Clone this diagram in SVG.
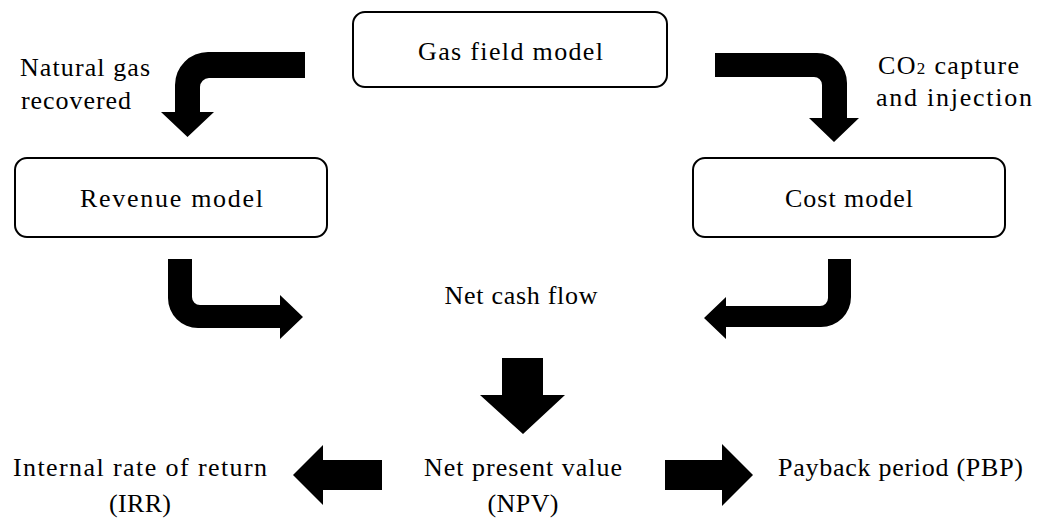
<svg xmlns="http://www.w3.org/2000/svg" width="1039" height="521" viewBox="0 0 1039 521">
<style>
.box{fill:#fff;stroke:#000;stroke-width:2}
.t{font-family:"Liberation Serif",serif;font-size:26px;fill:#000}
.c{text-anchor:middle}
.arr{fill:#000;stroke:none}
</style>
<rect width="1039" height="521" fill="#fff"/>
<g id="connectors">
<path class="arr" d="M305,52 H208 A33,33 0 0 0 175,85 V112 H161 L187.5,137 L214,112 H200 V87 A9,9 0 0 1 209,78 H305 Z"/>
<path class="arr" d="M715,53 H817 A30,30 0 0 1 847,83 V118 H859 L834,142 L809,118 H822 V85 A8,8 0 0 0 814,77 H715 Z"/>
<path class="arr" d="M168,259 V298 A30,30 0 0 0 198,328 H280 V339 L303,317 L280,295 V305 H200 A8,8 0 0 1 192,297 V259 Z"/>
<path class="arr" d="M851,259 V297 A30,30 0 0 1 821,327 H726 V339 L704,318 L726,297 V306 H820 A8,8 0 0 0 828,298 V259 Z"/>
<path class="arr" d="M502,358 H543 V395 H565 L523,434 L480,395 H502 Z"/>
<path class="arr" d="M382,460 V490 H323 V505 L293,475 L323,445 V460 Z"/>
<path class="arr" d="M665,460 H722 V444 L753,475 L722,506 V490 H665 Z"/>
<g id="label-natural-gas">
<text class="t" x="20" y="76" textLength="130" lengthAdjust="spacing">Natural gas</text>
<text class="t" x="21" y="109" textLength="110" lengthAdjust="spacing">recovered</text>
</g>
<g id="label-co2">
<text class="t" x="878" y="74" textLength="141" lengthAdjust="spacing">CO<tspan font-size="17">2</tspan> capture</text>
<text class="t" x="876" y="106" textLength="156" lengthAdjust="spacing">and injection</text>
</g>
</g>
<g id="gas-field-model">
<rect class="box" x="353" y="12" width="314" height="75" rx="12"/>
<text class="t c" x="510.5" y="60" textLength="185" lengthAdjust="spacing">Gas field model</text>
</g>
<g id="revenue-model">
<rect class="box" x="15" y="158" width="312" height="79" rx="12"/>
<text class="t c" x="171.5" y="207" textLength="183" lengthAdjust="spacing">Revenue model</text>
</g>
<g id="cost-model">
<rect class="box" x="693" y="158" width="312" height="79" rx="12"/>
<text class="t c" x="849" y="207" textLength="128" lengthAdjust="spacing">Cost model</text>
</g>
<g id="net-cash-flow">
<text class="t c" x="521" y="304" textLength="153" lengthAdjust="spacing">Net cash flow</text>
</g>
<g id="npv">
<text class="t c" x="523" y="476" textLength="198" lengthAdjust="spacing">Net present value</text>
<text class="t c" x="523" y="512" textLength="71" lengthAdjust="spacing">(NPV)</text>
</g>
<g id="irr">
<text class="t c" x="140" y="476" textLength="254" lengthAdjust="spacing">Internal rate of return</text>
<text class="t c" x="140" y="512" textLength="62" lengthAdjust="spacing">(IRR)</text>
</g>
<g id="pbp">
<text class="t" x="778" y="476" textLength="245" lengthAdjust="spacing">Payback period (PBP)</text>
</g>
</svg>
